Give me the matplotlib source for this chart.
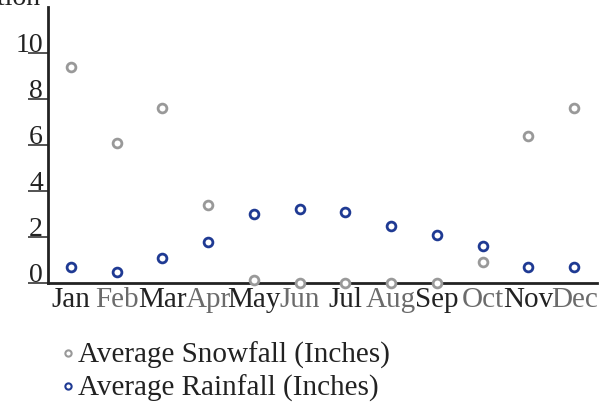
import matplotlib
matplotlib.use("Agg")
import matplotlib.pyplot as plt
import matplotlib.transforms as mtransforms
from matplotlib.lines import Line2D

# Monthly averages
months = ["Jan", "Feb", "Mar", "Apr", "May", "Jun",
          "Jul", "Aug", "Sep", "Oct", "Nov", "Dec"]
snowfall = [9.4, 6.1, 7.6, 3.4, 0.15, 0.0, 0.0, 0.0, 0.0, 0.9, 6.4, 7.6]
rainfall = [0.7, 0.5, 1.1, 1.8, 3.0, 3.2, 3.1, 2.5, 2.1, 1.6, 0.7, 0.7]
y_ticks = [0, 2, 4, 6, 8, 10]
y_title = "Precipitation"
snow_label = "Average Snowfall (Inches)"
rain_label = "Average Rainfall (Inches)"

SNOW_COLOR = "#999999"
RAIN_COLOR = "#1f3a93"
AXIS_COLOR = "#222222"
MONTH_COLORS = ["#222222", "#6b6b6b"]

plt.rcParams["font.family"] = ["Liberation Serif", "DejaVu Serif"]

W, H, DPI = 607, 412, 100
fig = plt.figure(figsize=(W / DPI, H / DPI), dpi=DPI)

x0, x1 = 48, 597
y0, y1 = 283, 7
ax = fig.add_axes([x0 / W, 1 - y0 / H, (x1 - x0) / W, (y0 - y1) / H])

xs = list(range(len(months)))
ax.set_xlim(-0.5, len(months) - 0.5)
ax.set_ylim(0, 12)

ax.scatter(xs, snowfall, s=40, facecolors="white", edgecolors=SNOW_COLOR,
           linewidths=2, zorder=4, clip_on=False)
ax.scatter(xs, rainfall, s=40, facecolors="white", edgecolors=RAIN_COLOR,
           linewidths=2, zorder=4, clip_on=False)

for side in ("top", "right"):
    ax.spines[side].set_visible(False)
for side in ("left", "bottom"):
    ax.spines[side].set_color(AXIS_COLOR)
    ax.spines[side].set_linewidth(2)
ax.spines["bottom"].set_zorder(3)

# y ticks: long outward marks with the value sitting on top of each mark
ax.set_yticks(y_ticks)
ax.set_yticklabels([])
ax.tick_params(axis="y", direction="out", length=14.4, width=1.3,
               color="#444444")
lab_tr = ax.get_yaxis_transform() + mtransforms.ScaledTranslation(
    -5 / DPI, 1 / DPI, fig.dpi_scale_trans)
for v in y_ticks:
    ax.text(0, v, str(v), transform=lab_tr, ha="right", va="baseline",
            fontsize=20, color="#222222")

# month labels, alternating dark / grey
ax.set_xticks(xs)
ax.set_xticklabels(months, fontsize=21)
ax.tick_params(axis="x", length=0, pad=3)
for i, lbl in enumerate(ax.get_xticklabels()):
    lbl.set_color(MONTH_COLORS[i % 2])

# axis title at the top-left
fig.text(40 / W, 1 - 5 / H, y_title, ha="right", va="baseline",
         fontsize=20, color="#222222")

handles = [
    Line2D([], [], linestyle="none", marker="o", markersize=4.5,
           markerfacecolor="white", markeredgecolor=SNOW_COLOR,
           markeredgewidth=1.5, label=snow_label),
    Line2D([], [], linestyle="none", marker="o", markersize=4.5,
           markerfacecolor="white", markeredgecolor=RAIN_COLOR,
           markeredgewidth=1.5, label=rain_label),
]
fig.legend(handles=handles, loc="upper left",
           bbox_to_anchor=(62 / W, 1 - 342 / H), frameon=False,
           fontsize=21, handlelength=0.4, handletextpad=0.15,
           labelspacing=0.2, borderaxespad=0, borderpad=0,
           labelcolor="#222222")

fig.savefig("out.png", dpi=DPI)
